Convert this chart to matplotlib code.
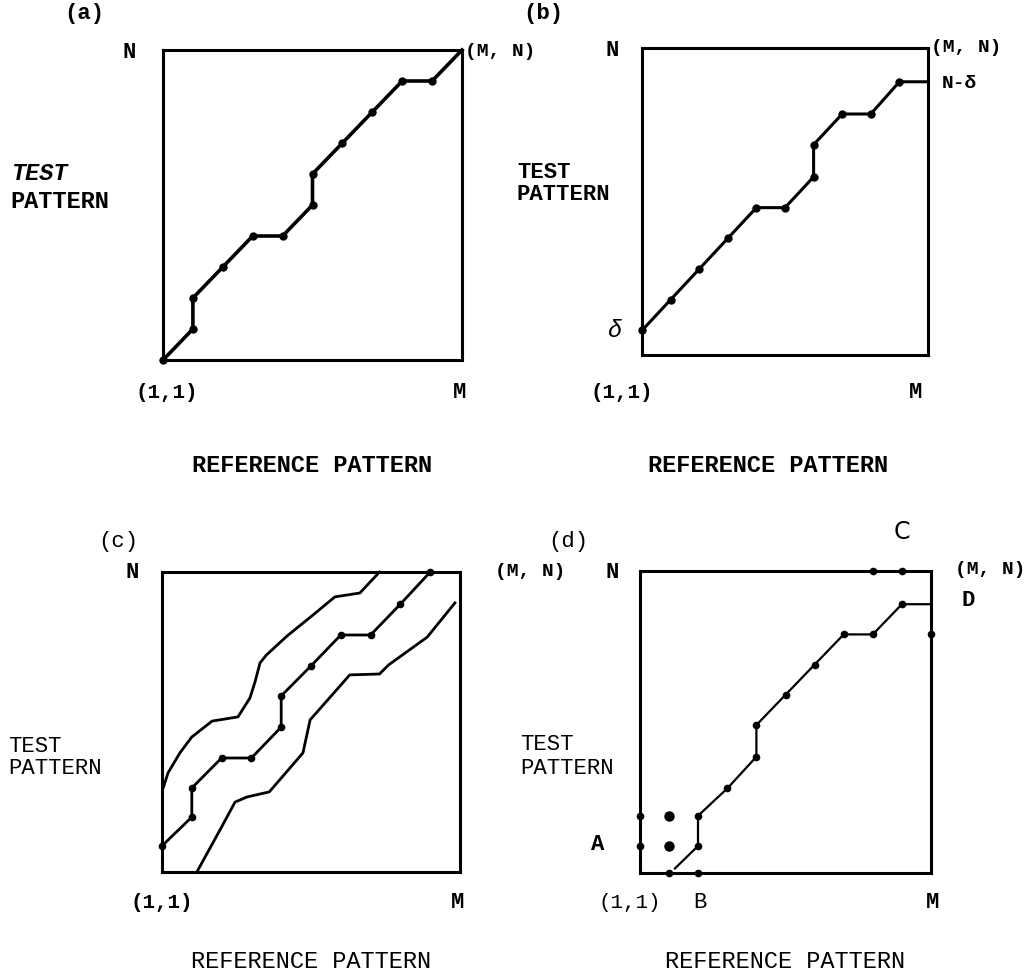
import matplotlib
matplotlib.use("Agg")
import matplotlib.pyplot as plt

W, H = 1031, 974
FONT = "Liberation Mono"

# ---------------- data (lattice units: reference frame 0..10, test frame 0..10) ----------
# (a) warping path from (1,1) to (M,N)
a_x = [0, 1, 1, 2, 3, 4, 5, 5, 6, 7, 8, 9, 10]
a_y = [0, 1, 2, 3, 4, 4, 5, 6, 7, 8, 9, 9, 10]

# (b) path starting at delta and ending at N-delta
b_x = [0, 1, 2, 3, 4, 5, 6, 6, 7, 8, 9, 10]
b_y = [0.8, 1.8, 2.8, 3.8, 4.8, 4.8, 5.8, 6.85, 7.85, 7.85, 8.9, 8.9]

# (c) middle path and its upper / lower envelopes
c_mid_x = [0, 1, 1, 2, 3, 4, 4, 5, 6, 7, 8, 9]
c_mid_y = [0.87, 1.83, 2.8, 3.8, 3.8, 4.83, 5.87, 6.87, 7.9, 7.9, 8.93, 10]
c_up_x = [0.05, 0.2, 0.6, 1.0, 1.68, 2.55, 2.95, 3.12, 3.29, 3.5, 4.2, 5.07, 5.8, 6.64, 7.3]
c_up_y = [2.83, 3.3, 3.97, 4.5, 5.03, 5.17, 5.8, 6.33, 6.97, 7.23, 7.87, 8.57, 9.17, 9.3, 10]
c_lo_x = [1.17, 2.0, 2.45, 2.85, 3.6, 4.73, 4.97, 6.3, 7.3, 7.6, 8.9, 9.83]
c_lo_y = [0, 1.5, 2.33, 2.5, 2.67, 3.97, 5.07, 6.57, 6.6, 6.9, 7.83, 8.97]

# (d) path with relaxed end points
d_x = [2, 3, 4, 4, 5, 6, 7, 8, 9, 10]
d_y = [1.9, 2.8, 3.85, 4.9, 5.9, 6.9, 7.9, 7.9, 8.9, 8.9]
d_start_x = [1.2, 2]
d_start_y = [0.15, 0.9]
d_link_x = [2, 2]
d_link_y = [1.0, 1.85]
d_pts_x = [2, 0, 0, 1, 2, 8, 9, 10]
d_pts_y = [0.9, 0.9, 1.9, 0, 0, 10, 10, 7.9]
d_big_x = [1, 1]
d_big_y = [0.9, 1.9]

# ---------------- figure ----------------
fig = plt.figure(figsize=(W / 100, H / 100), dpi=100)
fig.patch.set_facecolor("white")


def box(x0, y0, x1, y1):
    ax = fig.add_axes([x0 / W, 1 - y1 / H, (x1 - x0) / W, (y1 - y0) / H])
    ax.set_xlim(0, 10)
    ax.set_ylim(0, 10)
    ax.set_xticks([])
    ax.set_yticks([])
    for s in ax.spines.values():
        s.set_linewidth(2.2)
        s.set_color("black")
    return ax


def txt(x, y, s, size=16, ha="center", **kw):
    kw.setdefault("family", FONT)
    kw.setdefault("weight", "bold")
    fig.text(x / W, 1 - y / H, s, ha=ha, va="center", fontsize=size, color="black", **kw)


# (a)
axa = box(163, 50, 462, 360)
axa.plot(a_x, a_y, color="black", lw=2.6, clip_on=False)
axa.plot(a_x[:-1], a_y[:-1], "o", color="black", ms=5, clip_on=False)
txt(84, 14, "(a)")
txt(129, 52, "N")
txt(500, 52, "(M, N)", size=14)
txt(12, 174, "TEST", size=17, ha="left", style="italic")
txt(10, 202, "PATTERN", size=17, ha="left")
txt(167, 392, "(1,1)", size=15)
txt(460, 392, "M")
txt(312, 466, "REFERENCE PATTERN", size=17)

# (b)
axb = box(642, 48, 928, 355)
axb.plot(b_x, b_y, color="black", lw=2.2, clip_on=False)
axb.plot(b_x[:-1], b_y[:-1], "o", color="black", ms=5, clip_on=False)
txt(543, 14, "(b)")
txt(612, 50, "N")
txt(966, 48, "(M, N)", size=14)
txt(959, 83, "N-δ", size=14)
txt(615, 330, "δ", size=17, style="italic", weight="normal")
txt(517, 172, "TEST", size=16, ha="left")
txt(517, 195, "PATTERN", size=16, ha="left")
txt(622, 392, "(1,1)", size=15)
txt(916, 392, "M")
txt(768, 466, "REFERENCE PATTERN", size=17)

# (c)
axc = box(162, 572, 460, 872)
axc.plot(c_mid_x, c_mid_y, color="black", lw=2.0, clip_on=False)
axc.plot(c_mid_x, c_mid_y, "o", color="black", ms=4.5, clip_on=False)
axc.plot(c_up_x, c_up_y, color="black", lw=2.0, clip_on=False)
axc.plot(c_lo_x, c_lo_y, color="black", lw=2.0, clip_on=False)
txt(118, 542, "(c)", weight="normal")
txt(132, 573, "N")
txt(530, 572, "(M, N)", size=14)
txt(8, 746, "TEST", size=16, ha="left", weight="normal")
txt(8, 769, "PATTERN", size=16, ha="left", weight="normal")
txt(162, 902, "(1,1)", size=15)
txt(458, 902, "M")
txt(311, 961, "REFERENCE PATTERN", size=17, weight="normal")

# (d)
axd = box(640, 571, 931, 873)
axd.plot(d_x, d_y, color="black", lw=1.6, clip_on=False)
axd.plot(d_x[:-1], d_y[:-1], "o", color="black", ms=4.5, clip_on=False)
axd.plot(d_start_x, d_start_y, color="black", lw=1.6, clip_on=False)
axd.plot(d_link_x, d_link_y, color="black", lw=1.6, clip_on=False)
axd.plot(d_pts_x, d_pts_y, "o", color="black", ms=4.5, clip_on=False)
axd.plot(d_big_x, d_big_y, "o", color="black", ms=6.5, clip_on=False)
txt(568, 542, "(d)", weight="normal")
txt(612, 573, "N")
txt(902, 532, "C", size=17, family="DejaVu Sans", weight="normal")
txt(990, 570, "(M, N)", size=14)
txt(968, 600, "D", size=16)
txt(520, 745, "TEST", size=16, ha="left", weight="normal")
txt(520, 768, "PATTERN", size=16, ha="left", weight="normal")
txt(598, 845, "A", size=16)
txt(630, 903, "(1,1)", size=15, weight="normal")
txt(700, 903, "B", size=16, weight="normal")
txt(933, 903, "M")
txt(785, 961, "REFERENCE PATTERN", size=17, weight="normal")

fig.savefig("out.png", dpi=100, facecolor="white")
